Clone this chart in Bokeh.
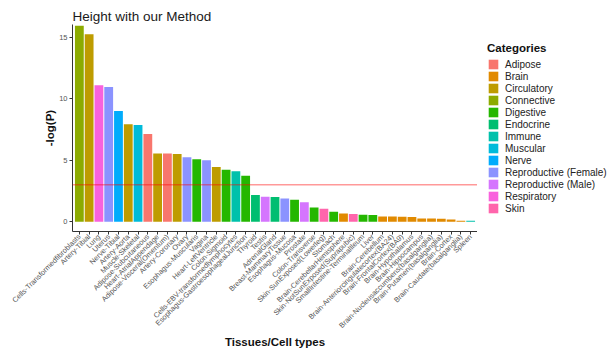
import math

from bokeh.embed import file_html
from bokeh.layouts import row
from bokeh.models import (ColumnDataSource, FactorRange, FixedTicker, Legend,
                          LegendItem, Range1d, Span)
from bokeh.plotting import figure
from bokeh.resources import INLINE

# Tissue enrichment results, ordered by significance
tissues = [
    "Cells-Transformedfibroblasts", "Artery-Tibial", "Lung", "Uterus",
    "Nerve-Tibial", "Artery-Aorta", "Muscle-Skeletal", "Adipose-Subcutaneous",
    "Heart-AtrialAppendage", "Adipose-Visceral(Omentum)", "Artery-Coronary",
    "Ovary", "Esophagus-Muscularis", "Vagina", "Heart-LeftVentricle",
    "Colon-Sigmoid", "Cells-EBV-transformedlymphocytes",
    "Esophagus-GastroesophagealJunction", "Thyroid", "Testis", "AdrenalGland",
    "Breast-MammaryTissue", "Esophagus-Mucosa", "Prostate", "Colon-Transverse",
    "Skin-SunExposed(Lowerleg)", "Stomach", "Brain-CerebellarHemisphere",
    "Skin-NotSunExposed(Suprapubic)", "SmallIntestine-TerminalIleum", "Liver",
    "Brain-Cerebellum", "Brain-Anteriorcingulatecortex(BA24)",
    "Brain-FrontalCortex(BA9)", "Brain-Hypothalamus", "Brain-Hippocampus",
    "Brain-Nucleusaccumbens(basalganglia)", "Brain-Putamen(basalganglia)",
    "Brain-Cortex", "Brain-Caudate(basalganglia)", "Spleen",
]

tissue_category = [
    "Connective", "Circulatory", "Respiratory", "Reproductive (Female)",
    "Nerve", "Circulatory", "Muscular", "Adipose",
    "Circulatory", "Adipose", "Circulatory",
    "Reproductive (Female)", "Digestive", "Reproductive (Female)", "Circulatory",
    "Digestive", "Immune",
    "Digestive", "Endocrine", "Reproductive (Male)", "Endocrine",
    "Reproductive (Female)", "Digestive", "Reproductive (Male)", "Digestive",
    "Skin", "Digestive", "Brain",
    "Skin", "Digestive", "Digestive",
    "Brain", "Brain",
    "Brain", "Brain", "Brain",
    "Brain", "Brain",
    "Brain", "Brain", "Immune",
]

neg_log_p = [
    15.93, 15.23, 11.10, 10.95,
    9.00, 7.92, 7.86, 7.13,
    5.55, 5.54, 5.50,
    5.23, 5.08, 5.00, 4.45,
    4.23, 4.09,
    3.74, 2.17, 2.03, 2.00,
    1.89, 1.79, 1.57, 1.16,
    1.04, 0.80, 0.66,
    0.63, 0.57, 0.55,
    0.42, 0.41,
    0.40, 0.38, 0.26,
    0.25, 0.24,
    0.17, 0.08, 0.07,
]

significance_threshold = 3.0

category_names = [
    "Adipose", "Brain", "Circulatory", "Connective", "Digestive", "Endocrine",
    "Immune", "Muscular", "Nerve", "Reproductive (Female)",
    "Reproductive (Male)", "Respiratory", "Skin",
]
category_colors = [
    "#F8766D", "#E18A00", "#BE9C00", "#8CAB00", "#24B700", "#00BE70",
    "#00C1AB", "#00BBDA", "#00ACFC", "#8B93FF", "#D575FE", "#F962DD",
    "#FF65AC",
]
color_of = dict(zip(category_names, category_colors))

source = ColumnDataSource(dict(
    tissue=tissues,
    category=tissue_category,
    value=neg_log_p,
    color=[color_of[c] for c in tissue_category],
))

FONT = "Liberation Sans"

# ---- main bar chart -------------------------------------------------------
p = figure(
    width=477, height=352,
    x_range=FactorRange(factors=tissues, range_padding=0.2,
                        range_padding_units="absolute"),
    y_range=Range1d(-0.8, 16.03),
    title="Height with our Method",
    output_backend="svg", toolbar_location=None,
    min_border_left=72, min_border_right=0,
    min_border_top=24, min_border_bottom=121,
)

p.vbar(x="tissue", top="value", bottom=0, width=0.9,
       fill_color="color", line_color=None, source=source)

p.add_layout(Span(location=significance_threshold, dimension="width",
                  line_color="red", line_alpha=0.4, line_width=1.5))

p.title.text_font = FONT
p.title.text_font_size = "13.5px"
p.title.text_font_style = "normal"
p.title.text_color = "#1a1a1a"
p.title.align = "left"
p.title.standoff = 1

p.xgrid.grid_line_color = None
p.ygrid.grid_line_color = None
p.outline_line_color = None
p.background_fill_color = "white"

for ax in (p.xaxis[0], p.yaxis[0]):
    ax.axis_line_color = "#333333"
    ax.axis_line_width = 1
    ax.major_tick_line_color = "#333333"
    ax.major_tick_out = 3
    ax.major_tick_in = 0
    ax.minor_tick_line_color = None
    ax.major_label_text_font = FONT
    ax.major_label_text_color = "#555555"
    ax.axis_label_text_font = FONT
    ax.axis_label_text_font_style = "bold"
    ax.axis_label_text_font_size = "11.5px"
    ax.axis_label_text_color = "#111111"

p.yaxis.ticker = FixedTicker(ticks=[0, 5, 10, 15])
p.yaxis.major_label_text_font_size = "7.5px"
p.yaxis.major_label_standoff = 2
p.yaxis.axis_label = "-log(P)"
p.yaxis.axis_label_standoff = 0

p.xaxis.axis_label = "Tissues/Cell types"
p.xaxis.major_label_orientation = math.pi / 4
p.xaxis.major_label_text_font_size = "7.3px"
p.xaxis.major_label_standoff = 1
p.xaxis.axis_label_standoff = 0

# ---- category legend panel ------------------------------------------------
# (its frame is aligned with the chart's frame inside the row)
lg = figure(
    width=130, height=352,
    x_range=FactorRange(factors=tissues),
    y_range=Range1d(0, 1),
    output_backend="svg", toolbar_location=None,
    min_border_left=0, min_border_right=0,
    min_border_top=0, min_border_bottom=0,
)
lg.axis.visible = False
lg.grid.visible = False
lg.outline_line_color = None
lg.border_fill_color = "white"
# zero-height bars: they only lend their colours to the legend keys
key_bars = lg.vbar(x="tissue", top=0, bottom=0, width=0.9,
                   fill_color="color", line_color=None, source=source)

items = [LegendItem(label=c, renderers=[key_bars],
                    index=tissue_category.index(c))
         for c in category_names]
legend = Legend(
    items=items, location=(10, 17), title="Categories",
    title_text_font=FONT, title_text_font_size="11.5px",
    title_text_font_style="bold", title_text_color="#111111",
    title_standoff=4,
    label_text_font=FONT, label_text_font_size="10px",
    label_text_color="#222222", label_standoff=6,
    glyph_width=12, glyph_height=12, label_height=12,
    spacing=0, padding=0, margin=0,
    border_line_color=None, background_fill_alpha=0,
)
lg.add_layout(legend)

layout = row(p, lg, spacing=0)

open("out.html", "w").write(file_html(layout, INLINE))
